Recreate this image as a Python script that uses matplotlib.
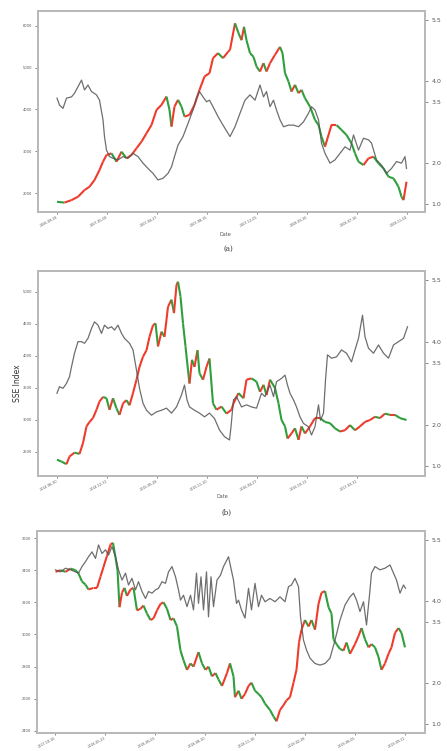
import matplotlib
matplotlib.use("Agg")
import matplotlib.pyplot as plt
from matplotlib.collections import LineCollection
import numpy as np

# ---------------- data (panel a) ----------------
a_red_day = [0,15,29,42,55,65,75,85,92,99,109,119,129,139,149,159,169,179,189,199,
             209,219,225,229,235,242,249,255,265,275,285,295,305,312,322,332,342,346,356,363,
             369,374,379,386,393,399,406,413,419,426,436,446,451,456,463,469,476,483,489,496,
             506,516,523,529,536,549,559,569,579,589,596,603,613,623,633,643,653,663,673,683,
             689,693,699]
a_red_val = [1790,1770,1830,1910,2070,2150,2310,2550,2750,2910,2950,2750,2990,2830,2910,3070,3230,3430,3630,3990,
             4110,4310,3990,3590,4070,4230,4070,3830,3870,4110,4470,4790,4870,5230,5350,5230,5380,5430,6065,5830,
             5660,5980,5660,5350,5260,5030,4910,5110,4910,5110,5310,5500,5350,4870,4670,4430,4590,4390,4470,4270,
             4070,3750,3630,3350,3110,3630,3630,3510,3390,3190,2950,2750,2670,2830,2870,2710,2590,2390,2350,2150,
             1910,1830,2270]
a_gray_day = [0,5,12,19,29,35,42,49,55,62,69,79,85,92,95,99,105,112,122,132,
              142,152,162,172,182,192,202,212,222,229,235,242,252,262,272,279,285,292,299,305,
              312,322,332,342,346,356,366,376,386,396,406,413,419,426,433,439,446,453,463,473,
              483,493,503,509,516,523,529,536,546,556,566,576,586,593,603,613,623,629,639,649,
              659,669,679,689,696,699]
a_gray_val = [3.59,3.42,3.34,3.59,3.62,3.71,3.87,4.03,3.79,3.91,3.75,3.67,3.54,3.06,2.65,2.32,2.16,2.12,2.08,2.16,
              2.12,2.24,2.16,2.00,1.87,1.75,1.59,1.63,1.75,1.91,2.16,2.44,2.65,2.97,3.30,3.59,3.75,3.62,3.50,3.54,
              3.38,3.14,2.93,2.73,2.65,2.89,3.22,3.54,3.67,3.54,3.91,3.62,3.75,3.38,3.54,3.30,3.06,2.89,2.93,2.93,
              2.89,3.01,3.22,3.38,3.30,3.06,2.49,2.24,2.00,2.08,2.24,2.40,2.32,2.69,2.32,2.61,2.57,2.49,2.08,1.95,
              1.75,1.87,2.04,2.00,2.16,1.87]
a_dates = ['2006-09-18','2007-01-08','2007-04-27','2007-08-15','2007-12-05','2008-03-26','2008-07-16','2008-11-04']
a_left_ticks = [2000, 3000, 4000, 5000, 6000]

# ---------------- data (panel b) ----------------
b_red_day = [0,9,19,25,35,45,52,59,65,72,79,85,92,99,105,112,119,125,132,139,
             145,152,159,165,172,179,185,192,197,202,209,215,222,229,234,239,242,247,252,257,
             262,265,270,275,281,285,292,299,305,312,319,329,339,349,
             353,363,373,379,389,399,406,413,419,426,436,443,449,456,461,469,476,483,489,496,
             506,516,526,536,546,556,566,576,586,596,606,616,626,636,646,656,666,676,686,699]
b_red_val = [2380,2350,2310,2430,2490,2470,2640,2900,2970,3030,3160,3290,3360,3340,3160,3340,3180,3080,3260,3310,
             3230,3420,3630,3830,3990,4090,4300,4480,4510,4150,4380,4300,4770,4880,4670,5110,5160,4930,4510,4150,
             3780,3570,3940,3830,4090,3730,3630,3830,3960,3260,3160,3210,3100,3160,
             3260,3420,3340,3630,3650,3600,3440,3550,3390,3630,3500,3260,3000,2900,2710,2790,2870,2690,2900,2790,
             2900,3030,3030,2970,2950,2870,2820,2840,2920,2840,2900,2970,3000,3050,3030,3100,3080,3080,3030,3000]
b_gray_day = [0,5,12,19,25,29,35,42,49,55,62,69,75,82,89,95,102,109,115,122,
              129,135,145,152,159,165,172,179,189,199,209,219,229,239,249,255,260,265,275,285,
              295,305,315,325,335,345,
              348,353,359,369,379,389,399,409,416,426,433,439,449,456,461,466,473,479,486,493,
              503,509,516,523,527,533,537,541,549,559,569,579,589,596,603,611,616,623,633,643,
              653,663,673,683,693,701]
b_gray_val = [2.76,2.92,2.88,3.00,3.16,3.40,3.73,4.01,4.01,3.97,4.09,4.33,4.49,4.41,4.21,4.41,4.33,4.37,4.29,4.41,
              4.21,4.09,3.97,3.81,3.32,2.88,2.52,2.35,2.23,2.31,2.35,2.40,2.28,2.43,2.72,2.96,2.60,2.43,2.35,2.28,
              2.19,2.28,2.15,1.87,1.71,1.63,
              1.95,2.60,2.68,2.43,2.48,2.43,2.40,2.76,2.68,2.96,2.68,3.04,3.12,3.20,2.96,2.76,2.60,2.43,2.19,2.03,
              1.95,1.75,1.95,2.48,2.11,2.28,3.08,3.69,3.61,3.64,3.81,3.73,3.52,3.81,4.09,4.65,4.13,3.85,3.73,3.93,
              3.73,3.61,3.93,4.01,4.09,4.37]
b_dates = ['2014-06-30','2014-12-11','2015-05-28','2015-11-10','2016-04-27','2016-10-13','2017-03-31']
b_left_ticks = [2500, 3000, 3500, 4000, 4500, 5000]

# ---------------- data (panel c) ----------------
c_red_day = [1,11,21,31,41,47,54,61,67,77,84,91,97,104,111,116,121,125,129,134,
             139,144,151,157,164,171,177,184,191,197,204,211,217,224,231,237,244,251,257,264,
             271,277,287,294,301,307,314,321,327,334,344,
             350,357,360,367,373,380,387,393,400,407,413,420,430,437,443,450,457,463,470,477,
             483,488,493,500,507,513,520,527,533,540,547,553,557,563,570,577,583,590,600,607,
             613,620,627,633,640,647,653,660,667,673,680,687,693,700]
c_red_val = [3390,3400,3390,3410,3400,3380,3330,3310,3280,3290,3290,3360,3420,3490,3560,3570,3480,3400,3170,3260,
             3290,3240,3280,3290,3150,3160,3180,3130,3090,3100,3150,3190,3200,3160,3090,3100,3050,2900,2840,2780,
             2820,2800,2890,2820,2780,2800,2740,2760,2720,2680,2760,
             2820,2740,2610,2650,2600,2630,2680,2700,2650,2630,2610,2570,2530,2490,2460,2530,2560,2590,2610,2700,
             2780,2950,3030,3090,3050,3090,3030,3190,3260,3270,3170,3130,2970,2940,2910,2900,2950,2880,2940,2990,
             3040,2970,2920,2940,2920,2860,2780,2820,2880,2920,3010,3040,3010,2920]
c_gray_day = [1,11,21,31,41,47,54,61,67,74,81,87,94,101,107,114,121,127,134,141,
              147,154,161,167,174,181,187,194,201,207,214,221,227,234,241,247,251,257,264,271,
              277,283,287,292,297,303,307,312,317,324,331,337,347,
              357,363,367,373,380,387,393,400,407,413,420,430,440,450,460,467,473,480,487,491,
              497,503,510,520,530,540,550,560,570,580,590,597,603,610,617,623,629,633,640,650,
              660,670,677,683,690,697,701]
c_gray_val = [4.77,4.72,4.81,4.77,4.72,4.69,4.85,4.97,5.09,5.21,5.05,5.38,5.17,5.26,5.13,5.34,5.09,4.77,4.52,4.69,
              4.40,4.56,4.28,4.48,4.24,4.07,4.24,4.20,4.28,4.32,4.48,4.44,4.72,4.85,4.60,4.28,4.03,4.15,3.87,4.15,
              3.79,4.69,3.95,4.60,3.79,4.72,3.62,4.60,3.87,4.52,4.64,4.85,5.09,
              4.52,3.95,4.03,3.79,3.59,4.32,3.79,4.44,3.87,4.15,3.99,4.07,3.99,4.11,3.99,4.36,4.40,4.56,4.36,3.62,
              3.05,2.81,2.61,2.48,2.44,2.48,2.61,3.05,3.54,3.91,4.11,4.20,4.03,3.75,3.99,3.42,4.15,4.69,4.85,4.77,
              4.81,4.89,4.69,4.52,4.20,4.40,4.32]
c_dates = ['2017-10-16','2018-01-23','2018-05-03','2018-08-10','2018-11-16','2019-02-28','2019-06-05','2019-09-11']
c_left_ticks = [2400, 2600, 2800, 3000, 3200, 3400, 3600]

right_ticks = [1.0, 2.0, 3.5, 4.0, 5.5]

RED = '#ef3b2c'
GREEN = '#2f9e3c'
GRAY = '#555555'
SPINE = '#b8b8b8'
TXT = '#555555'

W, H = 447, 751
fig = plt.figure(figsize=(W / 100, H / 100), dpi=100)
fig.patch.set_facecolor('white')


def rect(l, t, r, b):
    return [l / W, 1 - b / H, (r - l) / W, (b - t) / H]


def draw_price(ax, d, v):
    d = np.asarray(d, float)
    v = np.asarray(v, float)
    pts = np.column_stack([d, v]).reshape(-1, 1, 2)
    segs = np.concatenate([pts[:-1], pts[1:]], axis=1)
    cols = [RED if b >= a else GREEN for a, b in zip(v[:-1], v[1:])]
    lc = LineCollection(segs, colors=cols, linewidths=1.5, capstyle='butt', zorder=3)
    ax.add_collection(lc)


def panel(box, red_d, red_v, gray_d, gray_v, dates, lticks, ylim_l, ylim_r, xlim):
    ax = fig.add_axes(rect(*box))
    ax2 = ax.twinx()
    draw_price(ax, red_d, red_v)
    ax2.plot(gray_d, gray_v, color=GRAY, lw=0.9, alpha=0.85)
    ax.set_xlim(*xlim)
    ax.set_ylim(*ylim_l)
    ax2.set_ylim(*ylim_r)
    ax.set_yticks(lticks)
    ax.set_yticklabels([str(t) for t in lticks])
    ax2.set_yticks(right_ticks)
    ax2.set_yticklabels([f"{t:.1f}" for t in right_ticks])
    xt = [i * 100 for i in range(len(dates))]
    ax.set_xticks(xt)
    ax.set_xticklabels(dates, rotation=28, ha='right', rotation_mode='anchor')
    for a in (ax, ax2):
        for s in a.spines.values():
            s.set_color(SPINE)
            s.set_linewidth(1.2)
    ax.tick_params(axis='y', labelsize=2.6, colors=TXT, length=2, width=0.5, pad=2)
    ax.tick_params(axis='x', labelsize=2.4, colors=TXT, length=1.5, width=0.5, pad=1)
    ax2.tick_params(axis='y', labelsize=4.5, colors=TXT, length=2.5, width=0.5, pad=2)
    ax.set_facecolor('none')
    return ax, ax2


# panel a
panel((38, 11, 425, 212), a_red_day, a_red_val, a_gray_day, a_gray_val, a_dates,
      a_left_ticks, (1545, 6359), (0.806, 5.72), (-38, 736))
fig.text(225 / W, 1 - 235 / H, 'Date', fontsize=3.5, color=TXT, ha='center', va='center')
fig.text(228 / W, 1 - 249 / H, '(a)', fontsize=5, color='#333333', ha='center', va='center',
         family='DejaVu Serif')

# panel b
panel((38, 271, 425, 476), b_red_day, b_red_val, b_gray_day, b_gray_val, b_dates,
      b_left_ticks, (2125, 5328), (0.758, 5.72), (-38, 736))
fig.text(222 / W, 1 - 497 / H, 'Date', fontsize=3.5, color=TXT, ha='center', va='center')
fig.text(226 / W, 1 - 513 / H, '(b)', fontsize=5, color='#333333', ha='center', va='center',
         family='DejaVu Serif')
fig.text(17 / W, 1 - 383 / H, 'SSE Index', fontsize=5.5, color='#333333', rotation=90,
         ha='center', va='center')

# panel c
panel((37, 531, 425, 733), c_red_day, c_red_val, c_gray_day, c_gray_val, c_dates,
      c_left_ticks, (2387, 3644), (0.78, 5.72), (-36, 740))

fig.savefig('out.png', dpi=100, facecolor='white')
